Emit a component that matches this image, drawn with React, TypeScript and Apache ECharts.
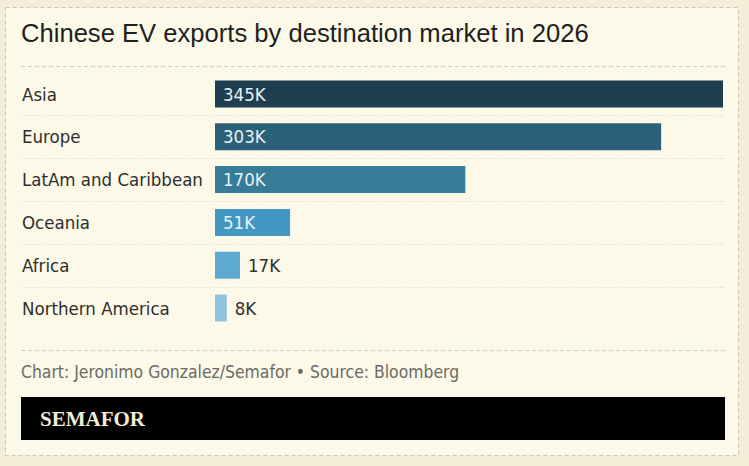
import React, { useEffect, useRef } from "react";
import * as echarts from "echarts";

const categories = ["Asia", "Europe", "LatAm and Caribbean", "Oceania", "Africa", "Northern America"];
const values = [345, 303, 170, 51, 17, 8];
const barColors = ["#1d3f4f", "#2b6079", "#367b97", "#4397c3", "#5ea9d0", "#8fc4e0"];

const W = 749;
const H = 466;
const GRID_LEFT = 215;
const GRID_RIGHT = 723;
const GRID_TOP = 72.6;
const BAND = 42.8;

const LABEL_FONT = "'DejaVu Sans Condensed', 'Liberation Sans Narrow', Roboto, sans-serif";

export default function App() {
  const ref = useRef<HTMLDivElement>(null);
  useEffect(() => {
    if (!ref.current) return;
    const chart = echarts.init(ref.current, undefined, { renderer: "svg" });
    const n = categories.length;
    const separators = [];
    for (let i = 1; i < n; i++) {
      const y = Math.round(GRID_TOP + BAND * i) + 0.5;
      separators.push({
        type: "line",
        shape: { x1: 21, y1: y, x2: 725, y2: y },
        style: { stroke: "#d2cfc0", lineWidth: 1, lineDash: [1, 2] },
        silent: true,
      });
    }
    chart.setOption({
      animation: false,
      backgroundColor: "#f4eed8",
      grid: {
        left: GRID_LEFT,
        right: W - GRID_RIGHT,
        top: GRID_TOP,
        height: BAND * n,
        containLabel: false,
      },
      xAxis: {
        type: "value",
        min: 0,
        max: 345,
        show: false,
      },
      yAxis: {
        type: "category",
        data: categories,
        inverse: true,
        axisLine: { show: false },
        axisTick: { show: false },
        splitLine: { show: false },
        axisLabel: {
          align: "left",
          margin: GRID_LEFT - 22,
          fontSize: 18.5,
          color: "#2e2e2e",
          fontFamily: LABEL_FONT,
        },
      },
      graphic: [
        {
          type: "rect",
          z: -10,
          shape: { x: 5.5, y: 7.5, width: 733, height: 448 },
          style: { fill: "#fcf9e8", stroke: "#c9c6bb", lineWidth: 1, lineDash: [4, 3] },
          silent: true,
        },
        {
          type: "text",
          x: 21,
          y: 33,
          style: {
            text: "Chinese EV exports by destination market in 2026",
            fontSize: 25.6,
            fontFamily: "'Liberation Sans', Arial, sans-serif",
            fill: "#1f1f1f",
            verticalAlign: "middle",
          },
        },
        {
          type: "line",
          shape: { x1: 21, y1: 66.5, x2: 725, y2: 66.5 },
          style: { stroke: "#cfccbf", lineWidth: 1, lineDash: [4, 3] },
          silent: true,
        },
        ...separators,
        {
          type: "line",
          shape: { x1: 21, y1: 350.5, x2: 725, y2: 350.5 },
          style: { stroke: "#cfccbf", lineWidth: 1, lineDash: [4, 3] },
          silent: true,
        },
        {
          type: "text",
          x: 21,
          y: 372,
          style: {
            text: "Chart: Jeronimo Gonzalez/Semafor \u2022 Source: Bloomberg",
            fontSize: 17.4,
            fontFamily: LABEL_FONT,
            fill: "#6a6a66",
            verticalAlign: "middle",
          },
        },
        {
          type: "rect",
          shape: { x: 21, y: 397, width: 704, height: 43 },
          style: { fill: "#000000" },
          silent: true,
        },
        {
          type: "text",
          x: 40,
          y: 419,
          style: {
            text: "SEMAFOR",
            fontSize: 21,
            fontWeight: "bold",
            fontFamily: "'Liberation Serif', 'DejaVu Serif', serif",
            fill: "#f2ecd8",
            verticalAlign: "middle",
          },
        },
      ],
      series: [
        {
          type: "bar",
          barWidth: 27,
          data: values.map((v, i) => {
            const inside = v > 30;
            return {
              value: v,
              itemStyle: { color: barColors[i] },
              label: {
                show: true,
                position: inside ? "insideLeft" : "right",
                distance: 8,
                formatter: (p: any) => p.value + "K",
                fontSize: 18.5,
                fontFamily: LABEL_FONT,
                color: inside ? "#e9f1f2" : "#2e2e2e",
              },
            };
          }),
        },
      ],
    });
    return () => chart.dispose();
  }, []);
  return (
    <div
      ref={ref}
      style={{ position: "absolute", left: 0, top: 0, width: W, height: H }}
    />
  );
}
